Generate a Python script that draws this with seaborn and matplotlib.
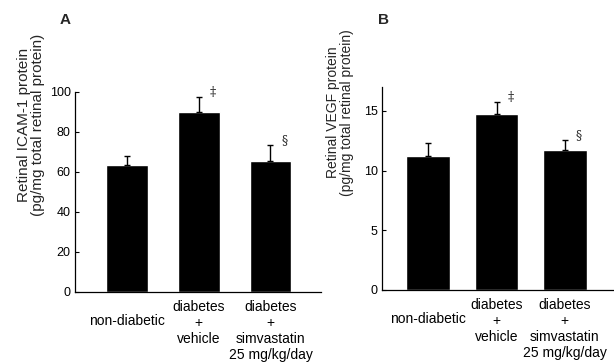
import matplotlib
matplotlib.use("Agg")
import matplotlib.pyplot as plt
import matplotlib.transforms as mtransforms
import numpy as np
import seaborn as sns

# group labels (same for both panels)
groups = ["non-diabetic", "diabetes\n+\nvehicle", "diabetes\n+\nsimvastatin\n25 mg/kg/day"]

# panel A: retinal ICAM-1 (mean, SE)
icam_mean = [63.7, 89.8, 65.3]
icam_se = [4.5, 7.9, 8.4]
icam_marks = ["", "\u2021", "\u00a7"]

# panel B: retinal VEGF (mean, SE)
vegf_mean = [11.25, 14.72, 11.75]
vegf_se = [1.05, 1.03, 0.8]
vegf_marks = ["", "\u2021", "\u00a7"]

sns.set_style("ticks")
plt.rcParams["font.family"] = ["Liberation Sans", "DejaVu Sans"]

fig = plt.figure(figsize=(6.14, 3.62), dpi=100)
ax_a = fig.add_axes([0.1221, 0.1934, 0.4007, 0.5525])
ax_b = fig.add_axes([0.6221, 0.1989, 0.3779, 0.5608])

LS = 1.17


def draw_panel(ax, means, ses, marks, ylim, yticks, ylabel, ylabel_size, xlim, width, label_xy):
    sns.barplot(x=groups, y=means, order=groups, color="black", saturation=1,
                width=width, errorbar=None, ax=ax, zorder=2)
    xs = np.arange(len(means))
    ax.errorbar(xs, means, yerr=[np.zeros(len(ses)), ses], fmt="none",
                ecolor="black", elinewidth=1, capsize=2.5, capthick=1, zorder=3)
    for i, m in enumerate(marks):
        if m:
            ax.annotate(m, (xs[i], means[i] + ses[i]), xytext=(10, 3),
                        textcoords="offset points", ha="center", va="center",
                        fontsize=9, family="DejaVu Serif")
    ax.set_ylim(*ylim)
    ax.set_yticks(yticks)
    ax.set_xlim(*xlim)
    sns.despine(ax=ax)
    for s in ["left", "bottom"]:
        ax.spines[s].set_linewidth(0.9)
        ax.spines[s].set_color("black")
    ax.tick_params(axis="y", direction="in", length=3, width=0.8, pad=3,
                   labelsize=9, colors="black")
    ax.tick_params(axis="x", length=0, pad=6, labelsize=10, colors="black")
    ax.set_xlabel("")
    ax.set_ylabel(ylabel, fontsize=ylabel_size, linespacing=1.0)
    ax.yaxis.set_label_coords(*label_xy)
    for lbl in ax.get_xticklabels():
        lbl.set_linespacing(LS)
        lbl.set_verticalalignment("top")
    # the single-line label sits a little lower, next to the "+" line
    first = ax.get_xticklabels()[0]
    shift = mtransforms.ScaledTranslation(0, -0.85 * LS * 10 / 72, fig.dpi_scale_trans)
    first.set_transform(first.get_transform() + shift)


draw_panel(ax_a, icam_mean, icam_se, icam_marks, (0, 100), [0, 20, 40, 60, 80, 100],
           "Retinal ICAM-1 protein\n(pg/mg total retinal protein)", 11,
           (-0.725, 2.704), 0.585, (-0.12, 0.835))
draw_panel(ax_b, vegf_mean, vegf_se, vegf_marks, (0, 17), [0, 5, 10, 15],
           "Retinal VEGF protein\n(pg/mg total retinal protein)", 10,
           (-0.677, 2.72), 0.64, (-0.12, 0.874))

fig.text(65 / 614, 1 - 20 / 362, "A", fontsize=11, fontweight="bold", ha="center", va="center")
fig.text(383 / 614, 1 - 20 / 362, "B", fontsize=11, fontweight="bold", ha="center", va="center")

fig.savefig("out.png", dpi=100)
